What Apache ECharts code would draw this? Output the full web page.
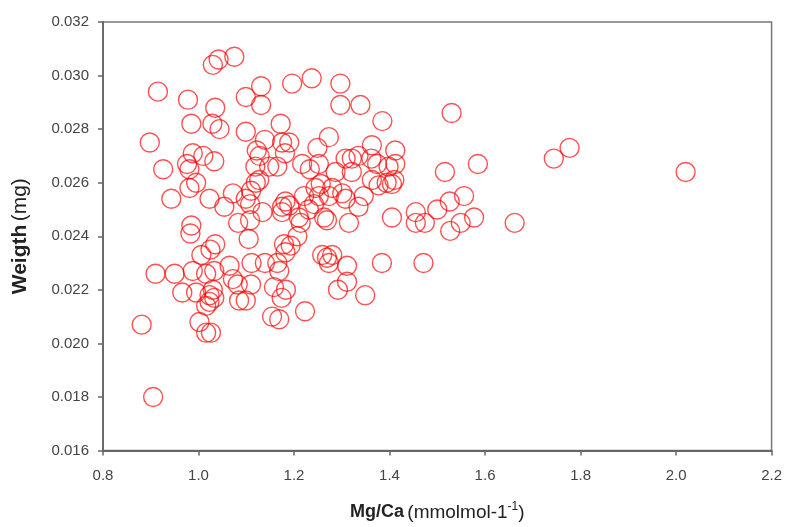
<!DOCTYPE html>
<html>
<head>
<meta charset="utf-8">
<script src="https://cdn.jsdelivr.net/npm/echarts@6/dist/echarts.min.js"></script>
<style>html,body{margin:0;padding:0;background:#fff;}#c{width:785px;height:527px;}</style>
</head>
<body>
<div id="c"></div>
<script>
// Mg/Ca values (mmol/mol)
var mgca = [
0.881,0.905,0.898,0.915,0.926,0.943,0.910,0.950,0.966,0.978,0.985,0.976,0.988,0.981,0.995,0.981,0.985,0.983,0.988,0.995,
1.002,1.010,1.033,1.023,1.030,1.042,1.075,1.035,1.029,1.044,1.099,1.099,1.035,1.025,1.006,1.016,1.033,1.030,1.023,1.033,
1.023,1.016,1.016,1.026,1.065,1.072,1.082,1.085,1.099,1.072,1.054,1.083,1.099,
1.108,1.108,1.105,1.110,1.120,1.127,1.119,1.128,1.122,1.139,1.131,1.131,1.148,1.165,1.172,1.175,1.190,1.181,1.196,1.134,
1.175,1.182,1.190,1.175,1.111,1.110,1.139,1.165,1.169,1.158,1.174,1.183,1.154,1.169,1.179,1.193,1.182,
1.237,1.217,1.233,1.249,1.273,1.252,1.297,1.297,1.287,1.256,1.245,1.280,1.273,1.252,1.221,1.231,1.242,1.263,1.269,1.214,
1.207,1.259,1.269,1.280,1.273,1.292,1.223,1.210,
1.339,1.385,1.308,1.321,1.335,1.363,1.362,1.412,1.398,1.374,1.321,1.363,1.377,1.394,1.405,1.301,1.308,1.335,1.346,1.315,
1.405,1.311,1.311,1.349,1.384,1.412,1.410,1.530,1.516,1.585,1.744,1.777,2.020,1.556,1.526,1.500,1.455,1.455,1.474,1.549,
1.577,1.527,1.662,1.471
];
// Weight values (mg)
var weight = [
0.0207,0.0180,0.0275,0.0294,0.0265,0.0254,0.0226,0.0226,0.0219,0.0291,0.0282,0.0267,0.0271,0.0265,0.0260,0.0258,0.0244,0.0241,0.0227,0.0219,
0.0208,0.0270,0.0268,0.0254,0.0304,0.0306,0.0307,0.0288,0.0282,0.0280,0.0292,0.0279,0.0237,0.0235,0.0233,0.0226,0.0227,0.0220,0.0218,0.0217,
0.02155,0.0214,0.0204,0.0204,0.0229,0.0224,0.0222,0.0216,0.0216,0.0256,0.0251,0.0245,0.0254,
0.0252,0.0246,0.0239,0.0257,0.0260,0.0261,0.0266,0.0270,0.0272,0.0276,0.0296,0.0289,0.0266,0.0266,0.0282,0.0275,0.0275,0.0271,0.0297,0.0249,
0.0251,0.0253,0.02515,0.0249,0.0230,0.0222,0.0230,0.0230,0.0227,0.0221,0.0217,0.0220,0.0210,0.0209,0.0237,0.02365,0.0234,
0.0299,0.0267,0.0265,0.0273,0.0277,0.0267,0.0297,0.0289,0.0264,0.02595,0.0258,0.0258,0.0255,0.0255,0.0255,0.0250,0.0252,0.0247,0.0246,0.0245,
0.0240,0.0233,0.0232,0.0233,0.0230,0.0220,0.0212,0.0247,
0.0289,0.0283,0.0269,0.0269,0.0270,0.0274,0.0269,0.0272,0.0266,0.0267,0.0264,0.0261,0.0259,0.0260,0.02595,0.0256,0.0254,0.0251,0.0255,0.0245,
0.0247,0.0229,0.0223,0.0218,0.0230,0.0267,0.0261,0.0286,0.0264,0.0267,0.0269,0.0273,0.0264,0.0255,0.0253,0.0250,0.0249,0.0245,0.0245,0.0245,
0.0247,0.0242,0.0245,0.0230
];
var xTicks = [0.8, 1.0, 1.2, 1.4, 1.6, 1.8, 2.0, 2.2];
var yTicks = [0.016, 0.018, 0.020, 0.022, 0.024, 0.026, 0.028, 0.030, 0.032];

var pts = mgca.map(function (v, i) { return [v, weight[i]]; });
var chart = echarts.init(document.getElementById('c'), null, {renderer: 'canvas'});
var FF = 'Liberation Sans, Arial, sans-serif';
var lblFont = {color: '#444', fontSize: 15, fontFamily: FF};
chart.setOption({
  animation: false,
  backgroundColor: '#fff',
  grid: {left: 103, right: 10, top: 22, bottom: 74, show: true, borderColor: '#777', borderWidth: 1.5, backgroundColor: 'transparent'},
  xAxis: {
    type: 'value', min: xTicks[0], max: xTicks[xTicks.length - 1], interval: 0.2,
    axisLine: {show: true, lineStyle: {color: '#666', width: 1.8}},
    axisTick: {show: true, inside: false, length: 5, lineStyle: {color: '#666', width: 1.5}},
    splitLine: {show: false},
    axisLabel: Object.assign({margin: 18, formatter: function (v) { return v.toFixed(1); }}, lblFont),
    name: '{b|Mg/Ca} {n|(mmolmol-1}{s|-1}{n|)}',
    nameLocation: 'middle', nameGap: 50,
    nameTextStyle: {
      rich: {
        b: {fontWeight: 'bold', fontSize: 18, color: '#222', fontFamily: FF},
        n: {fontSize: 19, color: '#222', fontFamily: FF},
        s: {fontSize: 12, color: '#222', verticalAlign: 'top', padding: [0, 0, 12, 0], fontFamily: FF}
      }
    }
  },
  yAxis: {
    type: 'value', min: yTicks[0], max: yTicks[yTicks.length - 1], interval: 0.002,
    axisLine: {show: true, lineStyle: {color: '#666', width: 1.8}},
    axisTick: {show: true, inside: false, length: 5, lineStyle: {color: '#666', width: 1.5}},
    splitLine: {show: false},
    axisLabel: Object.assign({margin: 14, formatter: function (v) { return v.toFixed(3); }}, lblFont),
    name: '{b|Weigth} {n|(mg)}',
    nameLocation: 'middle', nameGap: 72, nameRotate: 90,
    nameTextStyle: {
      rich: {
        b: {fontWeight: 'bold', fontSize: 21, color: '#222', fontFamily: FF},
        n: {fontSize: 21, color: '#222', fontFamily: FF}
      }
    }
  },
  series: [{
    type: 'scatter',
    data: pts,
    symbol: 'circle',
    symbolSize: 19,
    itemStyle: {color: 'rgba(255,255,255,0)', borderColor: 'rgba(255,0,0,0.85)', borderWidth: 1.4}
  }]
});
</script>
</body>
</html>
